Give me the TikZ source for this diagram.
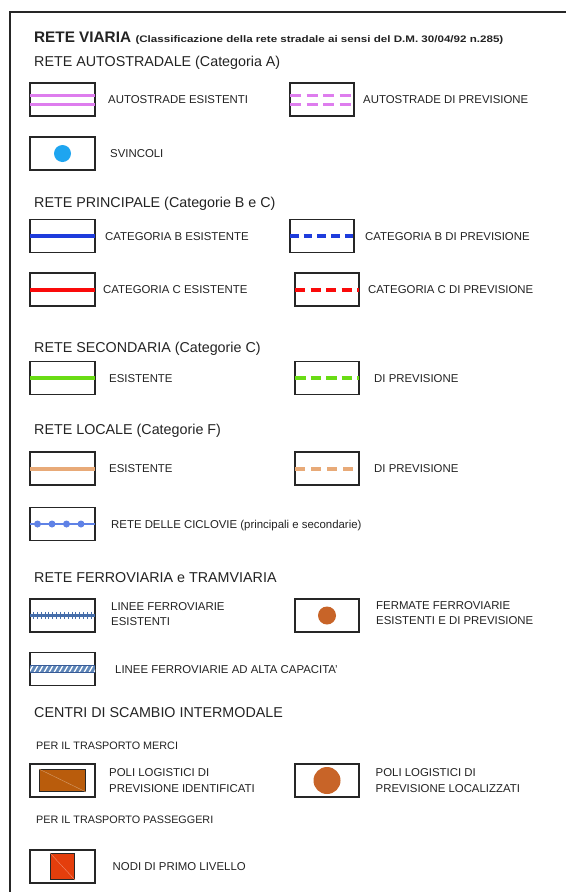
\documentclass[tikz,border=0pt]{standalone}
\usepackage{fontspec}
\setmainfont{Liberation Sans}
\usepackage{graphicx}
\usetikzlibrary{calc}
\definecolor{txt}{RGB}{35,35,35}
\definecolor{autocol}{RGB}{222,125,238}
\definecolor{svcol}{RGB}{30,165,240}
\definecolor{bcol}{RGB}{30,60,220}
\definecolor{ccol}{RGB}{250,10,10}
\definecolor{seccol}{RGB}{105,220,20}
\definecolor{loccol}{RGB}{232,170,120}
\definecolor{ciccol}{RGB}{95,130,230}
\definecolor{railcol}{RGB}{70,110,170}
\definecolor{acfill}{RGB}{95,135,185}
\definecolor{acline}{RGB}{55,90,150}
\definecolor{stopcol}{RGB}{200,100,40}
\definecolor{polcol}{RGB}{185,92,12}
\definecolor{nodcol}{RGB}{228,62,12}
\tikzset{
  lbox/.style={draw=black!85, line width=1.2pt, minimum width=65pt, minimum height=33pt, inner sep=0pt, outer sep=0pt},
  rbox/.style={lbox, minimum width=64pt},
  lab/.style={anchor=base west, inner sep=0pt, font=\fontsize{11.4}{14}\selectfont, text=txt},
  labtwo/.style={anchor=west, inner sep=0pt, align=left, font=\fontsize{11.4}{15.5}\selectfont, text=txt},
  head/.style={anchor=base west, inner sep=0pt, font=\fontsize{14.3}{16}\selectfont, text=txt},
  subhead/.style={anchor=base west, inner sep=0pt, font=\fontsize{10.8}{13}\selectfont, text=txt},
  solidln/.style={line width=#1, line cap=butt},
}
\begin{document}
\begin{tikzpicture}[x=1pt,y=-1pt]
\useasboundingbox (0,0) rectangle (566,892);
\fill[white] (0,0) rectangle (566,892);
\draw[line width=2pt, black!85] (10,892) -- (10,12) -- (566,12);

% title
\node[anchor=base west, inner sep=0pt, font=\bfseries\fontsize{15.3}{17}\selectfont, text=txt] (title) at (34,42) {RETE VIARIA};
\node[anchor=base west, inner sep=0pt, font=\bfseries\fontsize{9.5}{11}\selectfont, text=txt] (subt) at ([xshift=4pt]title.base east) {\scalebox{1.22}[1]{(Classificazione della rete stradale ai sensi del D.M. 30/04/92 n.285)}};

% autostradale
\node[head] (hA) at (34,66) {RETE AUTOSTRADALE (Categoria A)};
\node[lbox] (a1) at (62.5,99.5) {};
\draw[autocol, solidln=3pt] ([yshift=4.5pt]a1.west) -- ([yshift=4.5pt]a1.east);
\draw[autocol, solidln=3pt] ([yshift=-4.5pt]a1.west) -- ([yshift=-4.5pt]a1.east);
\node[lab] (ta1) at (108,103.5) {AUTOSTRADE ESISTENTI};
\node[rbox] (a2) at (322,99.5) {};
\draw[autocol, solidln=3pt, dash pattern=on 11pt off 5.5pt] ([yshift=4.5pt]a2.west) -- ([yshift=4.5pt]a2.east);
\draw[autocol, solidln=3pt, dash pattern=on 11pt off 5.5pt] ([yshift=-4.5pt]a2.west) -- ([yshift=-4.5pt]a2.east);
\node[lab] (ta2) at (363,103.5) {AUTOSTRADE DI PREVISIONE};

\node[lbox] (sv) at (62.5,153.5) {};
\fill[svcol] (sv.center) circle (8.5pt);
\node[lab] (tsv) at (110,157.5) {SVINCOLI};

% principale
\node[head] (hB) at (34,207) {RETE PRINCIPALE (Categorie B e C)};
\node[lbox] (b1) at (62.5,236) {};
\draw[bcol, solidln=3.5pt] (b1.west) -- (b1.east);
\node[lab] (tb1) at (105,240) {CATEGORIA B ESISTENTE};
\node[rbox] (b2) at (322,236) {};
\draw[bcol, solidln=3.5pt, dash pattern=on 8.5pt off 5.2pt] (b2.west) -- (b2.east);
\node[lab] (tb2) at (365,240) {CATEGORIA B DI PREVISIONE};

\node[lbox] (c1) at (62.5,289.5) {};
\draw[ccol, solidln=4pt] (c1.west) -- (c1.east);
\node[lab] (tc1) at (103,293.5) {CATEGORIA C ESISTENTE};
\node[rbox] (c2) at (327,289.5) {};
\draw[ccol, solidln=4pt, dash pattern=on 10pt off 5.5pt] (c2.west) -- (c2.east);
\node[lab] (tc2) at (368,293.5) {CATEGORIA C DI PREVISIONE};

% secondaria
\node[head] (hS) at (34,352) {RETE SECONDARIA (Categorie C)};
\node[lbox] (s1) at (62.5,378) {};
\draw[seccol, solidln=3.5pt] (s1.west) -- (s1.east);
\node[lab] (ts1) at (109,382) {ESISTENTE};
\node[rbox] (s2) at (327,378) {};
\draw[seccol, solidln=3.5pt, dash pattern=on 10.5pt off 5pt] (s2.west) -- (s2.east);
\node[lab] (ts2) at (374,382) {DI PREVISIONE};

% locale
\node[head] (hL) at (34,434) {RETE LOCALE (Categorie F)};
\node[lbox] (l1) at (62.5,468.5) {};
\draw[loccol, solidln=4pt] (l1.west) -- (l1.east);
\node[lab] (tl1) at (109,472.5) {ESISTENTE};
\node[rbox] (l2) at (327,468.5) {};
\draw[loccol, solidln=4pt, dash pattern=on 10pt off 6pt] (l2.west) -- (l2.east);
\node[lab] (tl2) at (374,472.5) {DI PREVISIONE};

\node[lbox] (cy) at (62.5,524) {};
\draw[ciccol, solidln=1.6pt] (cy.west) -- (cy.east);
\foreach \i in {0,1,2,3} \fill[ciccol] ($(cy.west)+(7.5+\i*14.5,0)$) circle (3.5pt);
\node[lab] (tcy) at (111,528) {RETE DELLE CICLOVIE (principali e secondarie)};

% ferroviaria
\node[head] (hF) at (34,582) {RETE FERROVIARIA e TRAMVIARIA};
\node[lbox] (f1) at (62.5,615.5) {};
\draw[railcol, solidln=2.4pt] (f1.west) -- (f1.east);
\foreach \i in {0,...,15} \draw[railcol, line width=0.9pt] ($(f1.west)+(3.5+\i*3.85,-3.6)$) -- ++(0,7.2);
\node[labtwo] (tf1) at (111,614) {LINEE FERROVIARIE\\ESISTENTI};
\node[rbox] (f2) at (327,615.5) {};
\fill[stopcol] (f2.center) circle (9pt);
\node[labtwo] (tf2) at (376,613) {FERMATE FERROVIARIE\\ESISTENTI E DI PREVISIONE};

\node[lbox] (ac) at (62.5,669) {};
\begin{scope}
\clip ($(ac.west)+(0,-3.6)$) rectangle ($(ac.east)+(0,3.6)$);
\fill[acfill] ($(ac.west)+(0,-3.6)$) rectangle ($(ac.east)+(0,3.6)$);
\foreach \i in {0,...,13} \draw[white, line width=1.3pt] ($(ac.west)+(-1+\i*5,3.6)$) -- ++(4,-7.2);
\end{scope}
\draw[acline, solidln=1.4pt] ($(ac.west)+(0,-3.6)$) -- ($(ac.east)+(0,-3.6)$);
\draw[acline, solidln=1.4pt] ($(ac.west)+(0,3.6)$) -- ($(ac.east)+(0,3.6)$);
\node[lab] (tac) at (115,673) {LINEE FERROVIARIE AD ALTA CAPACITA'};

% centri
\node[head] (hC) at (34,717) {CENTRI DI SCAMBIO INTERMODALE};
\node[subhead] (hM) at (36,749.5) {PER IL TRASPORTO MERCI};
\node[lbox] (m1) at (62.5,780.5) {};
\node[draw=black!85, line width=0.8pt, fill=polcol, minimum width=46pt, minimum height=22pt, inner sep=0pt] (pr) at (m1.center) {};
\draw[polcol!60!white, line width=0.4pt] (pr.north west) -- (pr.south east);
\node[labtwo] (tm1) at (109,780.5) {POLI LOGISTICI DI\\PREVISIONE IDENTIFICATI};
\node[rbox] (m2) at (327,780.5) {};
\fill[stopcol] (m2.center) circle (13.5pt);
\node[labtwo] (tm2) at (375.5,780.5) {POLI LOGISTICI DI\\PREVISIONE LOCALIZZATI};

\node[subhead] (hP) at (36,823.5) {PER IL TRASPORTO PASSEGGERI};
\node[lbox] (n1) at (62.5,866.5) {};
\node[draw=black!85, line width=0.8pt, fill=nodcol, minimum width=24pt, minimum height=26pt, inner sep=0pt] (nq) at (n1.center) {};
\draw[nodcol!60!white, line width=0.4pt] (nq.north west) -- (nq.south east);
\node[lab] (tn1) at (112.5,870.5) {NODI DI PRIMO LIVELLO};
\end{tikzpicture}
\end{document}
